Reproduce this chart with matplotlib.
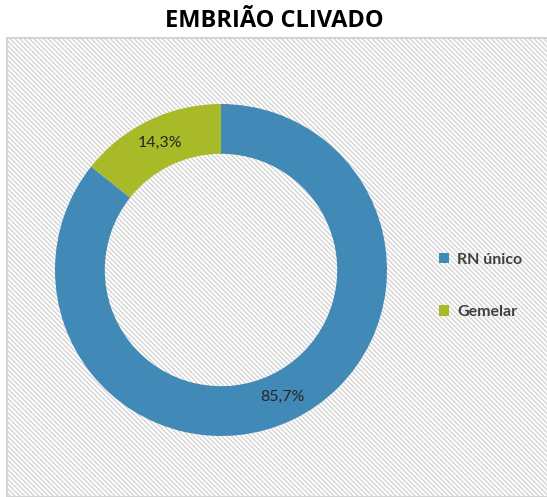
import matplotlib
matplotlib.use("Agg")
import matplotlib.pyplot as plt
from matplotlib.patches import Rectangle, Patch

plt.rcParams['font.family'] = ['Lato', 'DejaVu Sans']
plt.rcParams['hatch.color'] = '#dedede'
plt.rcParams['hatch.linewidth'] = 1.0

title = "EMBRIÃO CLIVADO"
categorias = ["RN único", "Gemelar"]
valores = [85.7, 14.3]
cores = ["#4189b6", "#a9ba28"]

W, H = 547, 497
fig = plt.figure(figsize=(W / 100, H / 100), dpi=100)

# fundo listrado da área do gráfico
fundo = Rectangle((7 / W, 0), 1, 459 / H, transform=fig.transFigure,
                  facecolor='white', edgecolor='#d4d4d4', hatch='\\' * 7,
                  linewidth=1.5, zorder=-5)
fig.patches.append(fundo)

fig.text(274 / W, 1 - 21 / H, title, ha='center', va='center',
         fontsize=17, fontweight='bold', color='black',
         family=['Open Sans', 'DejaVu Sans'])

# rosca centrada em (221, 270) px, raio 166 px
cx, cy, r = 221, 270, 166
ax = fig.add_axes([(cx - r) / W, (H - cy - r) / H, 2 * r / W, 2 * r / H])
ax.set_zorder(2)

wedges, texts, autotexts = ax.pie(
    valores, colors=cores, startangle=90, counterclock=False, radius=1,
    autopct=lambda p: f"{p:.1f}%".replace('.', ','), pctdistance=0.85,
    wedgeprops=dict(width=0.3, edgecolor='none'),
    textprops=dict(fontsize=11.5, color='#262626'))
ax.set_aspect('equal')
ax.set_xlim(-1, 1)
ax.set_ylim(-1, 1)
ax.axis('off')

handles = [Patch(facecolor=c, edgecolor='none') for c in cores]
leg = fig.legend(handles, categorias, loc='center left',
                 bbox_to_anchor=(425 / W, 1 - 286 / H), frameon=False,
                 labelcolor='#404040', handlelength=0.6,
                 handleheight=0.6, handletextpad=0.5, labelspacing=2.4,
                 prop=dict(weight='bold', size=11.5))
leg.set_zorder(3)

fig.savefig("out.png", dpi=100)
